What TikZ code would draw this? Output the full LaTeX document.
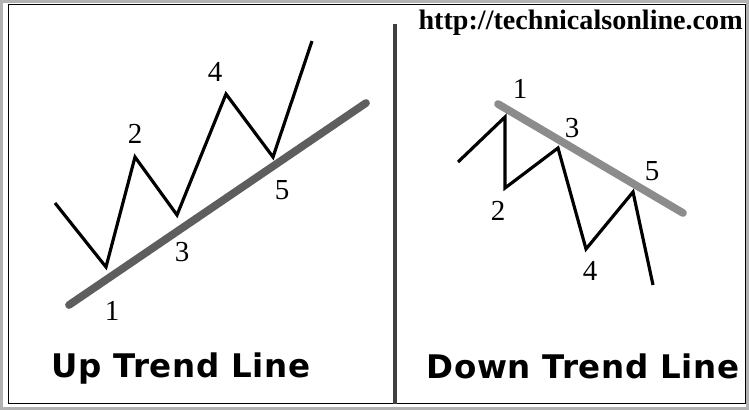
\documentclass[tikz,border=0pt]{standalone}
\usepackage{fontspec}
\setmainfont{Liberation Serif}
\newfontfamily\titlefont[LetterSpace=2]{DejaVu Sans}
\usetikzlibrary{calc}
\definecolor{upgray}{HTML}{5E5E5E}
\definecolor{downgray}{HTML}{8C8C8C}
\tikzset{
  price/.style={
    line width=1.8pt,
    line join=miter,
    black
  },
  trendline/.style={
    line width=4.4pt,
    line cap=round
  },
  wavenum/.style={
    font=\fontsize{16.5}{16.5}\selectfont,
    inner sep=0pt
  },
  charttitle/.style={
    font=\titlefont\bfseries\fontsize{18.5}{18.5}\selectfont,
    inner sep=0pt,
    anchor=base
  }
}
\begin{document}
\begin{tikzpicture}[x=0.02cm,y=-0.02cm]
    \useasboundingbox (0,0) rectangle (749,410);
    % frame
    \draw[gray!60,line width=1.2pt] (1.5,1.5) rectangle (747.5,408.5);
    \draw[black,line width=0.9pt] (8.5,4.5) rectangle (745.5,403.5);
    \coordinate (divtop) at (395,24);
    \coordinate (divbot) at (395,403.5);
    \draw[black!75,line width=2.2pt] (divtop) -- (divbot);
    % up trend
    \coordinate (u0) at (55,203);
    \coordinate (u1) at (106,267);
    \coordinate (u2) at (135,157);
    \coordinate (u3) at (177,215);
    \coordinate (u4) at (226,94);
    \coordinate (u5) at (273,157);
    \coordinate (u6) at (312,41);
    \coordinate (ua) at (69,305);
    \coordinate (ub) at (366,103);
    \draw[trendline,upgray] (ua) -- (ub);
    \draw[price] (u0) -- (u1) -- (u2) -- (u3) -- (u4) -- (u5) -- (u6);
    \node[wavenum] (un1) at (112,311) {1};
    \node[wavenum] (un2) at (135,134) {2};
    \node[wavenum] (un3) at (182,252) {3};
    \node[wavenum] (un4) at (215,72) {4};
    \node[wavenum] (un5) at (282,190) {5};
    \node[charttitle] (uptitle) at (181,377) {Up Trend Line};
    % down trend
    \coordinate (d0) at (458,162);
    \coordinate (d1) at (505,117);
    \coordinate (d2) at (505,188);
    \coordinate (d3) at (558,148);
    \coordinate (d4) at (586,249);
    \coordinate (d5) at (633,192);
    \coordinate (d6) at (653,285);
    \coordinate (da) at (498,104);
    \coordinate (db) at (683,213);
    \draw[trendline,downgray] (da) -- (db);
    \draw[price] (d0) -- (d1) -- (d2) -- (d3) -- (d4) -- (d5) -- (d6);
    \node[wavenum] (dn1) at (520,89) {1};
    \node[wavenum] (dn2) at (498,211) {2};
    \node[wavenum] (dn3) at (572,128) {3};
    \node[wavenum] (dn4) at (590,271) {4};
    \node[wavenum] (dn5) at (652,171) {5};
    \node[charttitle] (downtitle) at (583,378) {Down Trend Line};
    \node[font=\bfseries\fontsize{16}{16}\selectfont,inner sep=0pt,anchor=east] (site) at (743,23) {http://technicalsonline.com};
\end{tikzpicture}
\end{document}
